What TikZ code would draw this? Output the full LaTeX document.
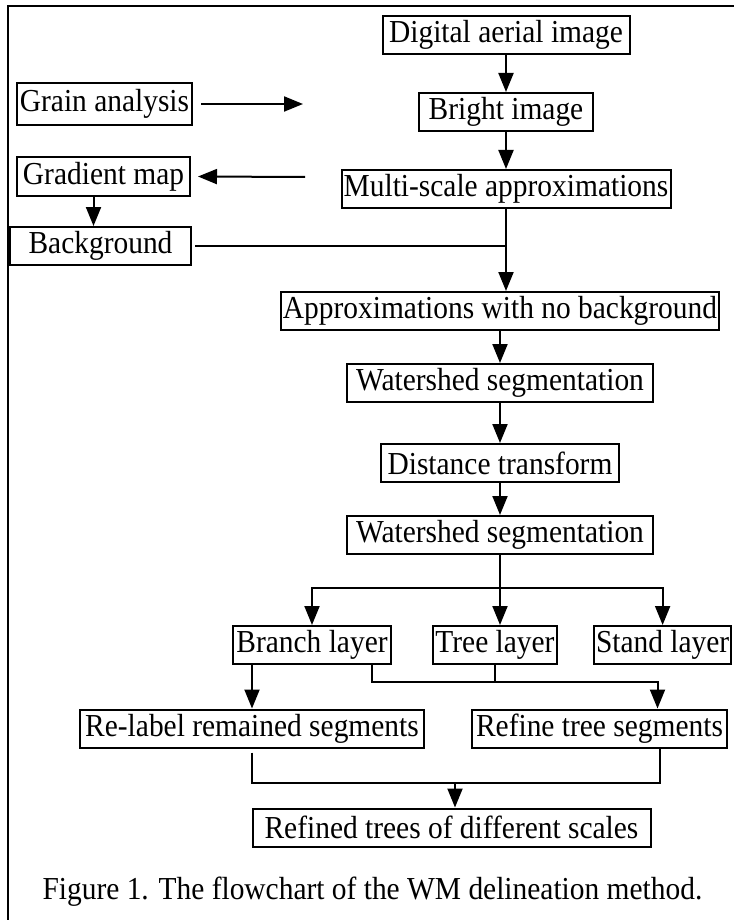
\documentclass[tikz,border=0pt]{standalone}
\usepackage{fontspec}
\setmainfont{Liberation Serif}[FakeStretch=0.92]
\usepackage{tikz}
\usetikzlibrary{arrows.meta, positioning}
\newcommand{\flowfont}{\fontsize{32}{36}\selectfont}

\begin{document}
\begin{tikzpicture}[
  x=1pt, y=-1pt,
  node distance=37pt,
  box/.style={rectangle, draw, line width=2pt, minimum height=38pt,
              inner xsep=2pt, inner ysep=0pt, align=center, font=\flowfont},
  arr/.style={-{Triangle[length=19pt, width=15pt]}, line width=2pt},
  ln/.style={line width=2pt}
]
\useasboundingbox (0,0) rectangle (734,920);

% frame
\draw[line width=2.5pt] (8,920) -- (8,6) -- (734,6);

% main column
\node[box, minimum width=247pt] (dai) at (506,35) {Digital aerial image};
\node[box, minimum width=174pt, below=of dai] (bri) {Bright image};
\node[box, minimum width=329pt, below=of bri] (msa) {Multi-scale approximations};
\node[box, minimum width=434pt, below=82pt of msa, xshift=-6pt] (anb) {Approximations with no background};
\node[box, minimum width=306pt, below=32pt of anb] (ws1) {Watershed segmentation};
\node[box, minimum width=238pt, below=40pt of ws1] (dtr) {Distance transform};
\node[box, minimum width=306pt, below=32pt of dtr] (ws2) {Watershed segmentation};

\draw[arr] (dai) -- (bri);
\draw[arr] (bri) -- (msa);
\draw[arr] (msa.south) -- (msa.south |- anb.north);
\draw[arr] (anb) -- (ws1);
\draw[arr] (ws1) -- (dtr);
\draw[arr] (dtr) -- (ws2);

% left side
\node[box, minimum width=175pt, minimum height=42pt] (gra) at (104.5,104) {Grain analysis};
\node[box, minimum width=173pt] (gmap) at (103.5,176.5) {Gradient map};
\node[box, minimum width=181pt] (bkg) at (100.5,246) {Background};
\coordinate (gend) at (303,104);
\coordinate (gsrc) at (305,177);

\draw[arr] ([xshift=8pt]gra.east) -- (gend);
\draw[arr] (gsrc) -- ([xshift=7pt]gmap.east);
\draw[arr] ([xshift=-10pt]gmap.south) -- ([xshift=-10pt]gmap.south |- bkg.north);
\draw[ln] ([xshift=3pt]bkg.east) -- (bkg.east -| msa.south);

% layers
\node[box, minimum width=124pt, below=70pt of ws2, xshift=-5pt] (tree) {Tree layer};
\node[box, minimum width=158pt, left=40pt of tree] (branch) {Branch layer};
\node[box, minimum width=137pt, right=35pt of tree] (stand) {Stand layer};
\coordinate[below=33pt of ws2.south] (splt);

\draw[arr] (ws2.south) -- (ws2.south |- tree.north);
\draw[arr] (splt) -| (branch.north);
\draw[arr] (splt) -| (stand.north);

% refinement
\node[box, minimum width=344pt] (rel) at (252,728.5) {Re-label remained segments};
\node[box, minimum width=255pt] (rft) at (599.5,728.5) {Refine tree segments};
\node[box, minimum width=398pt] (rtd) at (451.5,827.5) {Refined trees of different scales};
\coordinate (jn) at (500,682);
\coordinate (bj) at (455,783);

\draw[arr] (branch.south -| rel.north) -- (rel.north);
\draw[arr] ([xshift=60pt]branch.south) |- (jn) -| ([xshift=58pt]rft.north);
\draw[ln] (tree.south) -- (tree.south |- jn);
\draw[ln] ([yshift=-4pt]rel.south) |- (bj) -| ([xshift=60pt]rft.south);
\draw[arr] (bj) -- (bj |- rtd.north);

% caption
\node[anchor=base west, font=\flowfont] (cap) at (39,899) {Figure 1. The flowchart of the WM delineation method.};

\end{tikzpicture}
\end{document}
